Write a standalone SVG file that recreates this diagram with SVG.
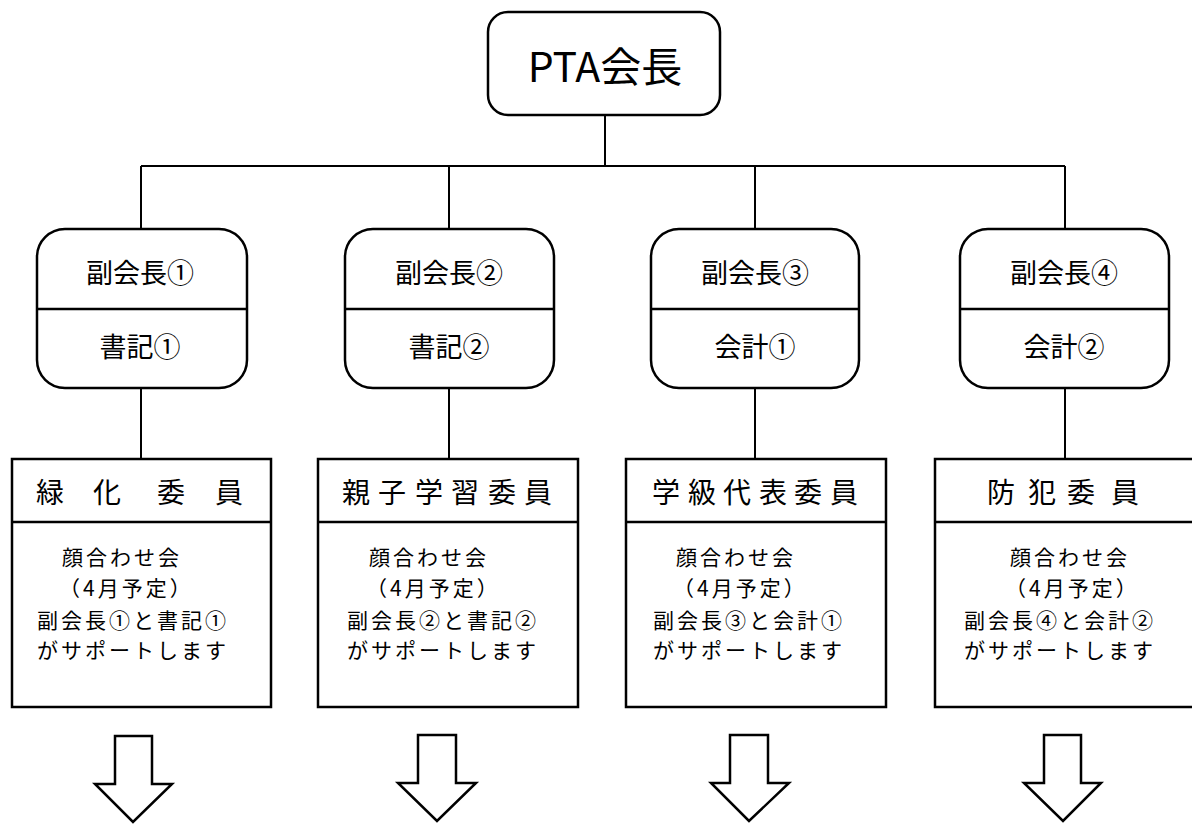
<svg xmlns="http://www.w3.org/2000/svg" width="1192" height="832" viewBox="0 0 1192 832">
<style>
text{font-family:"Noto Sans CJK JP","Noto Sans",sans-serif;fill:#000}
.box{fill:#fff;stroke:#000;stroke-width:2.5}
.div{stroke:#000;stroke-width:2.5}
.con{stroke:#000;stroke-width:2;fill:none}
.top{font-size:41px;text-anchor:middle}
.vice{font-size:27px;text-anchor:middle}
.head{font-size:28px}
.body{font-size:21px;letter-spacing:3px}
.arrow{fill:#fff;stroke:#000;stroke-width:2.5;stroke-linejoin:miter}
</style>
<rect width="1192" height="832" fill="#fff"/>
<g id="connectors">
<path class="con" d="M605 115V166M141 166H1065M141 166V229M449 166V229M755 166V229M1065 166V229M141 388V459M449 388V459M755 388V459M1065 388V459"/>
</g>
<g id="pta">
<rect class="box" x="488" y="12" width="232" height="103" rx="20"/>
<text class="top" x="605" y="82">PTA会長</text>
</g>
<g id="vice1">
<rect class="box" x="37" y="229" width="210" height="159" rx="28"/>
<line class="div" x1="37" y1="309" x2="247" y2="309"/>
<text class="vice" x="140" y="283">副会長①</text>
<text class="vice" x="140" y="357">書記①</text>
</g>
<g id="vice2">
<rect class="box" x="345" y="229" width="209" height="159" rx="28"/>
<line class="div" x1="345" y1="309" x2="554" y2="309"/>
<text class="vice" x="449" y="283">副会長②</text>
<text class="vice" x="449" y="357">書記②</text>
</g>
<g id="vice3">
<rect class="box" x="651" y="229" width="208" height="159" rx="28"/>
<line class="div" x1="651" y1="309" x2="859" y2="309"/>
<text class="vice" x="755" y="283">副会長③</text>
<text class="vice" x="755" y="357">会計①</text>
</g>
<g id="vice4">
<rect class="box" x="960" y="229" width="209" height="159" rx="28"/>
<line class="div" x1="960" y1="309" x2="1169" y2="309"/>
<text class="vice" x="1064" y="283">副会長④</text>
<text class="vice" x="1064" y="357">会計②</text>
</g>
<g id="committee1">
<rect class="box" x="12" y="459" width="259" height="248"/>
<line class="div" x1="12" y1="522" x2="271" y2="522"/>
<text class="head" x="36 93 157 215" y="503">緑化委員</text>
<text class="body" x="62" y="565">顔合わせ会</text>
<text class="body" x="59" y="596">（4月予定）</text>
<text class="body" x="37" y="628">副会長①と書記①</text>
<text class="body" x="37" y="658">がサポートします</text>
</g>
<g id="committee2">
<rect class="box" x="318" y="459" width="260" height="248"/>
<line class="div" x1="318" y1="522" x2="578" y2="522"/>
<text class="head" x="342 378 415 451 488 524" y="503">親子学習委員</text>
<text class="body" x="369" y="565">顔合わせ会</text>
<text class="body" x="366" y="596">（4月予定）</text>
<text class="body" x="347" y="628">副会長②と書記②</text>
<text class="body" x="347" y="658">がサポートします</text>
</g>
<g id="committee3">
<rect class="box" x="626" y="459" width="260" height="248"/>
<line class="div" x1="626" y1="522" x2="886" y2="522"/>
<text class="head" x="652 688 723 759 794 830" y="503">学級代表委員</text>
<text class="body" x="676" y="565">顔合わせ会</text>
<text class="body" x="673" y="596">（4月予定）</text>
<text class="body" x="653" y="628">副会長③と会計①</text>
<text class="body" x="653" y="658">がサポートします</text>
</g>
<g id="committee4">
<rect class="box" x="935" y="459" width="270" height="248"/>
<line class="div" x1="935" y1="522" x2="1205" y2="522"/>
<text class="head" x="987 1028 1067 1111" y="503">防犯委員</text>
<text class="body" x="1010" y="565">顔合わせ会</text>
<text class="body" x="1005" y="596">（4月予定）</text>
<text class="body" x="964" y="628">副会長④と会計②</text>
<text class="body" x="964" y="658">がサポートします</text>
</g>
<g id="arrows">
<polygon class="arrow" points="115,736 152,736 152,784 172,784 133,822 95,784 115,784"/>
<polygon class="arrow" points="418,735 456,735 456,783 476,783 437,821 398,783 418,783"/>
<polygon class="arrow" points="730,735 768,735 768,783 789,783 749,821 711,783 730,783"/>
<polygon class="arrow" points="1044,735 1081,735 1081,783 1101,783 1063,821 1024,783 1044,783"/>
</g>
</svg>
